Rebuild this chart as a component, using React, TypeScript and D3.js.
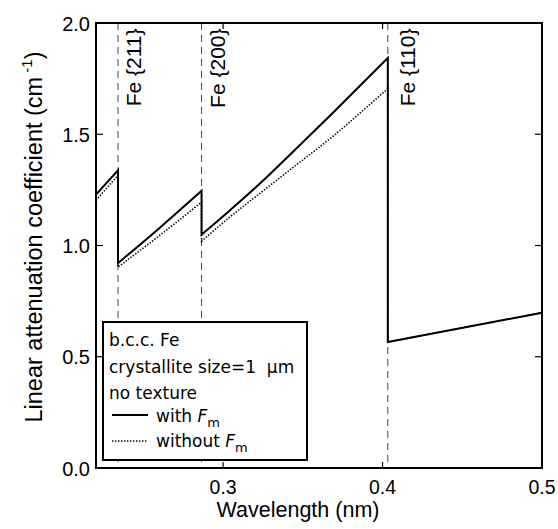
import React from "react";
import * as d3 from "d3";

// wavelength (nm) sampled along the curves; repeated values are the Bragg edges
const wavelength = [0.2203, 0.2341, 0.2341, 0.26, 0.2865, 0.2865, 0.3031, 0.3241, 0.3482, 0.3691, 0.3901, 0.4033, 0.4033, 0.5];
const withFm = [1.229, 1.338, 0.921, 1.078, 1.246, 1.049, 1.151, 1.285, 1.452, 1.598, 1.748, 1.843, 0.566, 0.698];
const withoutFm = [1.203, 1.316, 0.903, 1.044, 1.195, 1.019, 1.121, 1.24, 1.375, 1.492, 1.622, 1.705, 0.566, 0.698];

const edgeWavelengths = [0.2341, 0.2865, 0.4033];
const edgeLabels = ["Fe {211}", "Fe {200}", "Fe {110}"];

const xTicks = [0.3, 0.4, 0.5];
const yTicks = [0.0, 0.5, 1.0, 1.5, 2.0];

const legendLines = ["b.c.c. Fe", "crystallite size=1  \u03bcm", "no texture"];

const App = () => {
  const width = 558;
  const height = 529;
  const margin = { top: 23, right: 16, bottom: 61, left: 96 };
  const w = width - margin.left - margin.right;
  const h = height - margin.top - margin.bottom;

  const x = d3.scaleLinear().domain([0.2203, 0.5]).range([0, w]);
  const y = d3.scaleLinear().domain([0, 2]).range([h, 0]);
  const fmt = d3.format(".1f");

  const line = d3
    .line<[number, number]>()
    .x((d) => x(d[0]))
    .y((d) => y(d[1]))
    .curve(d3.curveMonotoneX);

  // split at the edges (repeated wavelength) so each branch is smooth,
  // then join them so the drops are drawn as vertical lines
  const sawPath = (vals: number[]) => {
    const segs: [number, number][][] = [[]];
    vals.forEach((v, i) => {
      if (i > 0 && wavelength[i] === wavelength[i - 1]) segs.push([]);
      segs[segs.length - 1].push([wavelength[i], v]);
    });
    return segs.map((s, i) => {
      const d = line(s) || "";
      return i === 0 ? d : "L" + d.slice(1);
    }).join("");
  };

  const axisFont = "'Liberation Sans', Arial, Helvetica, sans-serif";
  const legendFont = "'DejaVu Sans', sans-serif";
  const tickLen = 7;

  // legend box
  const lg = { x: 7, y: 299, w: 204, h: 138 };

  return (
    <svg width={width} height={height} style={{ display: "block", position: "absolute", left: 0, top: 0 }}>
      <rect width={width} height={height} fill="#fff" />
      <g transform={`translate(${margin.left},${margin.top})`}>
        <defs>
          <clipPath id="plot-clip">
            <rect x={0} y={0} width={w} height={h} />
          </clipPath>
        </defs>

        {/* bragg edge markers */}
        {edgeWavelengths.map((e, i) => (
          <g key={"edge" + i}>
            <line x1={x(e)} x2={x(e)} y1={0} y2={h} stroke="#444" strokeWidth={1} strokeDasharray="7,5" />
            <text
              transform={`translate(${x(e) + (i === 2 ? 27 : 23)},5.5) rotate(-90)`}
              textAnchor="end"
              fontFamily={axisFont}
              fontSize={21}
              fill="#000"
            >
              {edgeLabels[i]}
            </text>
          </g>
        ))}

        {/* curves */}
        <g clipPath="url(#plot-clip)">
          <path d={sawPath(withoutFm)} fill="none" stroke="#000" strokeWidth={1.6} strokeDasharray="1.4,1.6" />
          <path d={sawPath(withFm)} fill="none" stroke="#000" strokeWidth={2} strokeLinejoin="miter" />
        </g>

        {/* legend */}
        <rect x={lg.x} y={lg.y} width={lg.w} height={lg.h} fill="#fff" stroke="#000" strokeWidth={2} />
        <g fontFamily={legendFont} fontSize={17} fill="#000">
          {legendLines.map((t, i) => (
            <text key={"lt" + i} x={lg.x + 6} y={323 + i * 26.5} xmlSpace="preserve" style={{ whiteSpace: "pre" }}>
              {t}
            </text>
          ))}
          <line x1={lg.x + 9} x2={lg.x + 45} y1={392} y2={392} stroke="#000" strokeWidth={2} />
          <text x={lg.x + 53} y={399}>
            with <tspan fontStyle="italic">F</tspan>
            <tspan fontSize={13} dy={5}>m</tspan>
          </text>
          <line x1={lg.x + 9} x2={lg.x + 45} y1={418} y2={418} stroke="#000" strokeWidth={1.4} strokeDasharray="1.4,1.6" />
          <text x={lg.x + 53} y={424}>
            without <tspan fontStyle="italic">F</tspan>
            <tspan fontSize={13} dy={5}>m</tspan>
          </text>
        </g>

        {/* frame */}
        <rect x={0} y={0} width={w} height={h} fill="none" stroke="#000" strokeWidth={2} />

        {/* ticks */}
        {yTicks.map((t) => (
          <g key={"yt" + t}>
            <line x1={0} x2={tickLen} y1={y(t)} y2={y(t)} stroke="#000" strokeWidth={1.2} />
            <line x1={w} x2={w - tickLen} y1={y(t)} y2={y(t)} stroke="#000" strokeWidth={1.2} />
            <text x={-6} y={y(t) + 7.5} textAnchor="end" fontFamily={axisFont} fontSize={20} fill="#000">
              {fmt(t)}
            </text>
          </g>
        ))}
        {xTicks.map((t) => (
          <g key={"xt" + t}>
            <line x1={x(t)} x2={x(t)} y1={h} y2={h - 6} stroke="#000" strokeWidth={1.2} />
            <line x1={x(t)} x2={x(t)} y1={0} y2={6} stroke="#000" strokeWidth={1.2} />
            <text x={x(t)} y={h + 26} textAnchor="middle" fontFamily={axisFont} fontSize={19.5} fill="#000">
              {fmt(t)}
            </text>
          </g>
        ))}

        {/* axis titles */}
        <text x={298 - margin.left} y={h + 49} textAnchor="middle" fontFamily={axisFont} fontSize={21.5} fill="#000">
          Wavelength (nm)
        </text>
        <text
          transform={`translate(${41.5 - margin.left},${237 - margin.top}) rotate(-90)`}
          textAnchor="middle"
          fontFamily={axisFont}
          fontSize={23.5}
          fill="#000"
        >
          Linear attenuation coefficient (cm
          <tspan fontSize={15} dy={-10}> -1</tspan>
          <tspan dy={10}>)</tspan>
        </text>
      </g>
    </svg>
  );
};

export default App;
